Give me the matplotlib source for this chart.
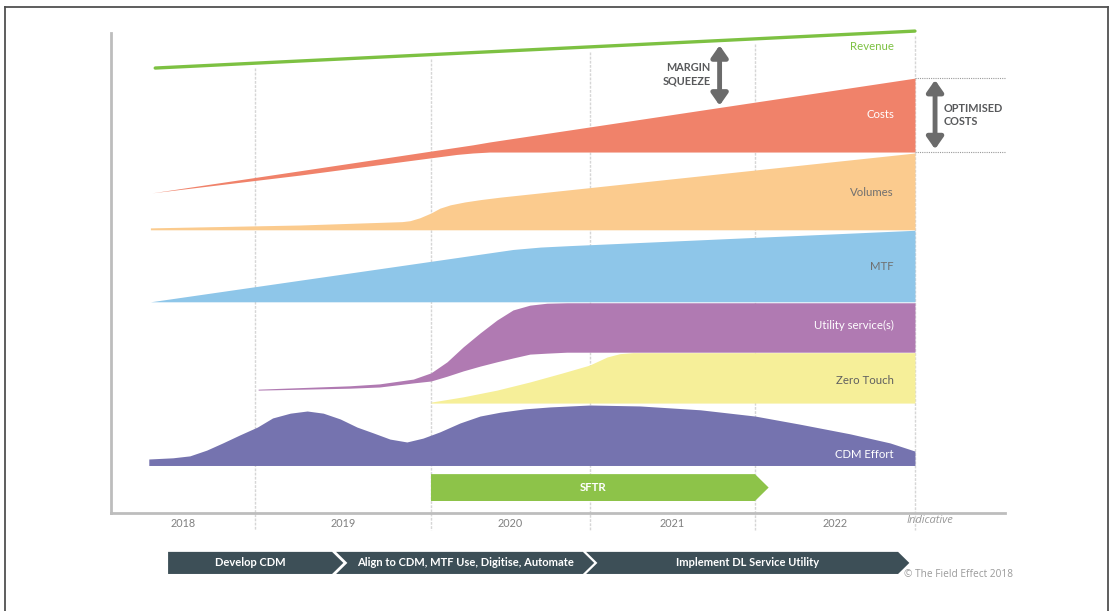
import numpy as np
import matplotlib
matplotlib.use("Agg")
import matplotlib.pyplot as plt
from matplotlib.lines import Line2D

plt.rcParams['font.family'] = ['Lato', 'DejaVu Sans']

# timeline units: 0 = left axis, 100 = end of 2022 ; value units 0..100
years = ['2018', '2019', '2020', '2021', '2022']
year_edges = [17.9, 39.8, 59.6, 80.1, 100.0]

rev_x = [5.5, 100.0]
rev_y = [92.7, 100.4]

costs_x = [5.1, 23.5, 39.8, 43.0, 45.0, 47.1, 100.0]
costs_hi = [66.7, 71.3, 75.4, 76.2, 76.7, 77.3, 90.6]
costs_lo = [66.7, 70.4, 74.0, 74.7, 75.0, 75.2, 75.2]

vol_x = [4.9, 23.5, 36.2, 37.2, 38.4, 39.8, 40.9, 42.2, 44.0, 46.0, 48.4, 100.0]
vol_hi = [59.4, 60.0, 60.7, 60.9, 61.5, 62.5, 63.5, 64.2, 64.8, 65.3, 65.8, 75.0]
vol_base = 59.0

mtf_x = [4.9, 50.0, 53.4, 57.0, 100.0]
mtf_hi = [44.0, 54.9, 55.4, 55.7, 58.9]
mtf_base = 44.0

util_x = [18.3, 29.7, 33.4, 37.6, 39.8, 41.8, 43.8, 45.9, 48.0, 50.0, 52.1, 54.2, 56.7, 100.0]
util_hi = [25.8, 26.5, 26.9, 27.9, 29.2, 31.5, 34.6, 37.5, 40.2, 42.3, 43.3, 43.7, 43.8, 43.8]
util_lo = [25.6, 26.0, 26.25, 27.1, 27.5, 28.5, 29.6, 30.6, 31.5, 32.3, 33.1, 33.3, 33.5, 33.5]

zt_x = [39.8, 43.8, 48.0, 52.1, 56.2, 59.5, 61.7, 63.3, 64.9, 100.0]
zt_hi = [23.1, 24.2, 25.6, 27.3, 29.2, 30.8, 32.5, 33.2, 33.4, 33.4]
zt_base = 22.9

cdm_x = [4.7, 7.7, 9.8, 11.9, 13.9, 16.0, 18.2, 20.1, 22.3, 24.4, 26.4, 28.5,
         30.6, 32.6, 34.7, 36.8, 38.8, 40.9, 43.4, 45.9, 48.4, 51.5, 54.6, 59.6,
         65.8, 73.3, 80.1, 85.7, 91.9, 96.9, 100.0]
cdm_hi = [11.25, 11.5, 11.9, 13.1, 14.6, 16.25, 17.9, 19.8, 20.8, 21.25, 20.8, 19.6,
          17.9, 16.7, 15.4, 14.8, 15.6, 16.9, 18.75, 20.2, 21.0, 21.7, 22.1, 22.5,
          22.3, 21.5, 20.2, 18.5, 16.5, 14.6, 12.9]
cdm_base = 9.9

sftr_span = [39.8, 80.1]
phases = ['Develop CDM', 'Align to CDM, MTF Use, Digitise, Automate',
          'Implement DL Service Utility']
phase_start = [7.1, 28.0, 59.1]
phase_end = [27.5, 58.7, 97.9]

series_labels = ['Revenue', 'Costs', 'Volumes', 'MTF', 'Utility service(s)',
                 'Zero Touch', 'CDM Effort']
label_y = [97.1, 83.1, 66.7, 51.25, 39.0, 27.7, 12.1]
label_colors = ['#7dc142', 'white', '#707070', '#707070', 'white', '#606060', 'white']

fig = plt.figure(figsize=(11.14, 6.11), dpi=100)
ax = fig.add_axes([111 / 1114, 98 / 611, 894 / 1114, 480 / 611])
ax.set_xlim(0, 111.2)
ax.set_ylim(0, 100)
ax.set_xticks([])
ax.set_yticks([])
for s in ['top', 'right']:
    ax.spines[s].set_visible(False)
for s in ['left', 'bottom']:
    ax.spines[s].set_color('#bdbdbd')
    ax.spines[s].set_linewidth(2)

# year gridlines from the revenue line down below the axis
for gx in year_edges:
    top = np.interp(gx, rev_x, rev_y) - 1
    ax.plot([gx, gx], [top, -3.5], color='#d6d6d6', lw=1, ls=(0, (2, 1)),
            clip_on=False, zorder=1)

mids = [(a + b) / 2 for a, b in zip([0] + year_edges[:-1], year_edges)]
for m, yr in zip(mids, years):
    ax.text(m, -2.2, yr, ha='center', va='center', fontsize=7.8, color='#808080')

# bands
ax.fill_between(costs_x, costs_lo, costs_hi, color='#f0826a', lw=0, zorder=2)
ax.fill_between(vol_x, vol_base, vol_hi, color='#fbcb8e', lw=0, zorder=2)
ax.fill_between(mtf_x, mtf_base, mtf_hi, color='#8ec6e9', lw=0, zorder=2)
ax.fill_between(util_x, util_lo, util_hi, color='#b07ab2', lw=0, zorder=2)
ax.fill_between(zt_x, zt_base, zt_hi, color='#f6ef99', lw=0, zorder=2)
ax.fill_between(cdm_x, cdm_base, cdm_hi, color='#7573af', lw=0, zorder=2)

ax.plot(rev_x, rev_y, color='#7dc142', lw=2.4, solid_capstyle='round',
        clip_on=False, zorder=3)

for lab, ly, lc in zip(series_labels, label_y, label_colors):
    ax.text(97.4, ly, lab, ha='right', va='center', fontsize=8.2, color=lc, zorder=4)

# SFTR arrow
tip = 1.7
sx0, sx1 = sftr_span
ax.fill([sx0, sx1, sx1 + tip, sx1, sx0], [8.1, 8.1, 5.3, 2.5, 2.5],
        color='#8dc349', lw=0, zorder=2)
ax.text((sx0 + sx1) / 2, 5.3, 'SFTR', ha='center', va='center', fontsize=8.3,
        color='white', fontweight='bold', zorder=4)

# margin squeeze arrow
mx = 75.7
r_at = np.interp(mx, rev_x, rev_y)
c_at = np.interp(mx, costs_x, costs_hi)
arr = dict(arrowstyle='<|-|>,head_length=0.5,head_width=0.35', color='#6b6b6b',
           lw=3.5, shrinkA=0, shrinkB=0, mutation_scale=14)
ax.annotate('', xy=(mx, r_at - 1.0), xytext=(mx, c_at + 0.4), arrowprops=arr,
            annotation_clip=False)
ax.text(mx - 1.1, (r_at + c_at) / 2, 'MARGIN\nSQUEEZE', ha='right', va='center',
        fontsize=7.8, fontweight='bold', color='#58595b', linespacing=1.3)

# optimised costs arrow
ox = 102.5
ax.annotate('', xy=(ox, costs_hi[-1] - 0.4), xytext=(ox, costs_lo[-1] + 0.6),
            arrowprops=arr, annotation_clip=False)
for yy in [costs_hi[-1], costs_lo[-1]]:
    ax.plot([100, 111.2], [yy, yy], color='#9a9a9a', lw=0.8, ls=(0, (1, 1)),
            clip_on=False)
ax.text(103.6, (costs_hi[-1] + costs_lo[-1]) / 2, 'OPTIMISED\nCOSTS', ha='left',
        va='center', fontsize=7.8, fontweight='bold', color='#58595b', linespacing=1.3)

ax.text(99.0, -1.5, 'Indicative', ha='left', va='center', fontsize=8,
        style='italic', color='#999999', family=['Open Sans', 'DejaVu Sans'])

# phase chevrons under the axis
ch = 1.4
for i, (p0, p1, lab) in enumerate(zip(phase_start, phase_end, phases)):
    xs = [p0, p1, p1 + ch, p1, p0]
    ys = [-8.1, -8.1, -10.4, -12.7, -12.7]
    if i > 0:
        xs = [p0, p1, p1 + ch, p1, p0, p0 + ch]
        ys = [-8.1, -8.1, -10.4, -12.7, -12.7, -10.4]
    ax.fill(xs, ys, color='#3d4f57', lw=0, clip_on=False)
    cx = (p0 + p1) / 2 + (0.7 if i > 0 else 0)
    ax.text(cx, -10.4, lab, ha='center', va='center', fontsize=8, color='white',
            fontweight='bold')

ax.text(98.6, -12.9, '\u00a9 The Field Effect 2018', ha='left', va='center',
        fontsize=7.3, color='#9a9a9a', family=['Open Sans', 'DejaVu Sans'])

# outer frame
fc = '#505050'
fig.add_artist(Line2D([5 / 1114, 5 / 1114], [0, 1 - 7 / 611], color=fc, lw=1.3))
fig.add_artist(Line2D([1108 / 1114, 1108 / 1114], [0, 1 - 7 / 611], color=fc, lw=1.3))
fig.add_artist(Line2D([5 / 1114, 1108 / 1114], [1 - 7 / 611, 1 - 7 / 611], color=fc, lw=1.3))

fig.savefig('out.png', dpi=100, facecolor='white')
